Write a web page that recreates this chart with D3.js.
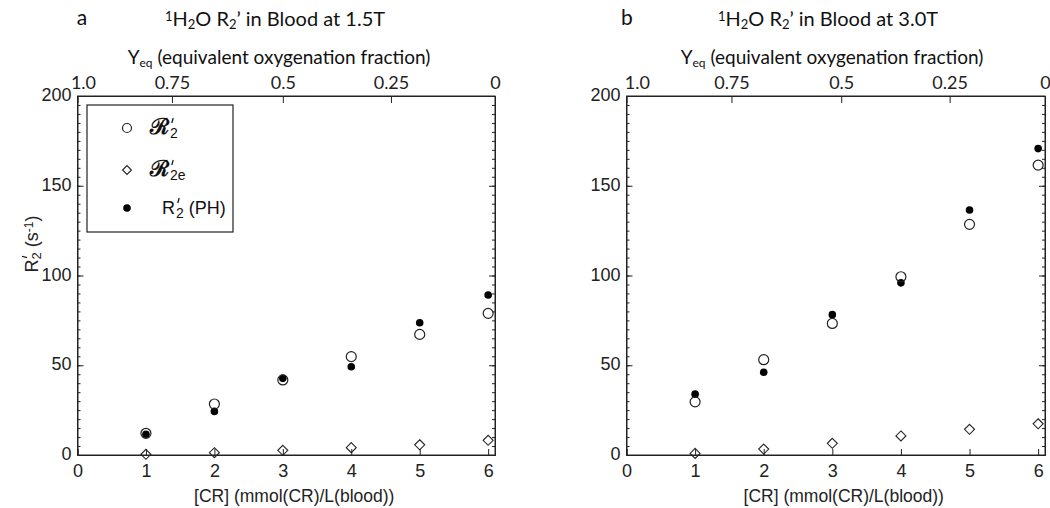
<!DOCTYPE html>
<html>
<head>
<meta charset="utf-8">
<script src="https://cdn.jsdelivr.net/npm/d3@7"></script>
<style>
  body { margin: 0; background: #fff; }
  svg { display: block; }
  .tick text { fill: #222; }
</style>
</head>
<body>
<svg id="chart" width="1050" height="508"></svg>
<script>
// concentration of contrast reagent, mmol(CR)/L(blood)
const crValues = [1, 2, 3, 4, 5, 6];

// panel a, 1.5T
const r2CalA   = [12.1, 28.4, 41.8, 54.8, 67.2, 78.9];
const r2eCalA  = [0.4, 1.3, 2.6, 4.1, 5.7, 8.2];
const r2PhA    = [11.6, 24.3, 42.7, 49.2, 73.7, 89.1];

// panel b, 3.0T
const r2CalB   = [29.6, 53.1, 73.3, 99.3, 128.5, 161.5];
const r2eCalB  = [0.9, 3.3, 6.5, 10.6, 14.3, 17.4];
const r2PhB    = [33.9, 46.1, 78.2, 95.9, 136.5, 170.7];

// bottom / left ticks
const xTicks = [0, 1, 2, 3, 4, 5, 6];
const yTicks = [0, 50, 100, 150, 200];

// top Yeq axis: labels and where they sit on the [CR] scale
const yeqLabels = ['1.0', '0.75', '0.5', '0.25', '0'];
const yeqPosA = [0.08, 1.38, 3.0, 4.58, 6.1];
const yeqPosB = [0.15, 1.53, 3.13, 4.71, 6.1];

const svg = d3.select('#chart');
const SANS = 'Liberation Sans, Arial, sans-serif';
const CALI = 'Lato, Open Sans, sans-serif';

/**
 * Draw a small prime mark above the character at charIdx of a text
 */
function addPrime(parent, textSel, charIdx, baseY) {
  const p = textSel.node().getStartPositionOfChar(charIdx);
  parent.append('path')
    .attr('d', `M${p.x + 3.2},${baseY - 16} L${p.x + 1.8},${baseY - 11}`)
    .attr('stroke', '#111').attr('stroke-width', 1.2).attr('fill', 'none');
}

/**
 * Draw one panel of the figure
 */
function drawPanel(opts) {
  const { left, right, top, bottom } = opts;

  const x = d3.scaleLinear().domain([0, 6.1]).range([left, right]);
  const y = d3.scaleLinear().domain([0, 200]).range([bottom, top]);

  const g = svg.append('g');

  // minor y ticks on both sides
  g.append('g')
    .attr('transform', `translate(${left},0)`)
    .call(d3.axisLeft(y).tickValues(d3.range(0, 201, 5)).tickSize(-3).tickFormat(''))
    .call(a => a.select('.domain').remove());
  g.append('g')
    .attr('transform', `translate(${right},0)`)
    .call(d3.axisRight(y).tickValues(d3.range(0, 201, 5)).tickSize(-3).tickFormat(''))
    .call(a => a.select('.domain').remove());

  // major axes
  g.append('g')
    .attr('transform', `translate(${left},0)`)
    .call(d3.axisLeft(y).tickValues(yTicks).tickSize(-6).tickPadding(6))
    .call(a => a.selectAll('text')
      .attr('dy', '0.25em')
      .style('font-family', SANS)
      .style('font-size', '18px'));

  g.append('g')
    .attr('transform', `translate(${right},0)`)
    .call(d3.axisRight(y).tickValues(yTicks).tickSize(-6).tickFormat(''));

  g.append('g')
    .attr('transform', `translate(0,${bottom})`)
    .call(d3.axisBottom(x).tickValues(xTicks).tickSize(-6).tickPadding(9).tickFormat(d3.format('d')))
    .call(a => a.selectAll('text')
      .style('font-family', SANS)
      .style('font-size', '18px'));

  const top_ = g.append('g')
    .attr('transform', `translate(0,${top})`)
    .call(d3.axisTop(x).tickValues(opts.yeqPos).tickSize(-7).tickPadding(7)
      .tickFormat((d, i) => yeqLabels[i]));
  top_.selectAll('text')
    .style('font-family', CALI)
    .style('font-size', '18px');
  // no tick marks at the frame corners
  top_.selectAll('.tick line')
    .filter((d, i) => i === 0 || i === opts.yeqPos.length - 1)
    .remove();

  g.selectAll('.domain').attr('stroke', '#222');
  g.selectAll('.tick line').attr('stroke', '#222');

  // frame
  g.append('rect')
    .attr('x', left).attr('y', top)
    .attr('width', right - left).attr('height', bottom - top)
    .attr('fill', 'none').attr('stroke', '#222').attr('stroke-width', 1);

  // diamonds
  g.append('g').selectAll('path')
    .data(crValues.map((c, i) => [c, opts.r2e[i]]))
    .join('path')
    .attr('d', d3.symbol(d3.symbolDiamond2, 64))
    .attr('transform', d => `translate(${x(d[0])},${y(d[1])})`)
    .attr('fill', 'none').attr('stroke', '#222').attr('stroke-width', 1.1);

  // filled dots (PH)
  g.append('g').selectAll('circle')
    .data(crValues.map((c, i) => [c, opts.ph[i]]))
    .join('circle')
    .attr('cx', d => x(d[0])).attr('cy', d => y(d[1]))
    .attr('r', 3.8).attr('fill', '#000');

  // open circles
  g.append('g').selectAll('circle')
    .data(crValues.map((c, i) => [c, opts.r2[i]]))
    .join('circle')
    .attr('cx', d => x(d[0])).attr('cy', d => y(d[1]))
    .attr('r', 5).attr('fill', 'none').attr('stroke', '#222').attr('stroke-width', 1.2);

  // panel letter
  svg.append('text')
    .attr('x', opts.letterX).attr('y', 25)
    .style('font-family', CALI)
    .style('font-size', '21px').attr('fill', '#111')
    .attr('text-anchor', 'middle')
    .text(opts.letter);

  // title
  const t = svg.append('text')
    .attr('x', opts.titleX).attr('y', 26)
    .attr('text-anchor', 'middle')
    .style('font-family', CALI)
    .style('font-size', '20px').attr('fill', '#111');
  t.append('tspan').attr('baseline-shift', '35%').style('font-size', '13px').text('1');
  t.append('tspan').text('H');
  t.append('tspan').attr('baseline-shift', '-25%').style('font-size', '13px').text('2');
  t.append('tspan').text('O R');
  t.append('tspan').attr('baseline-shift', '-25%').style('font-size', '13px').text('2');
  t.append('tspan').text(`\u2019 in Blood at ${opts.field}`);

  // Yeq axis title
  const yq = svg.append('text')
    .attr('x', opts.titleX + 4).attr('y', 64)
    .attr('text-anchor', 'middle')
    .style('font-family', CALI)
    .style('font-size', '19px').attr('fill', '#111');
  yq.append('tspan').text('Y');
  yq.append('tspan').attr('baseline-shift', '-25%').style('font-size', '12px').text('eq');
  yq.append('tspan').attr('dx', 5).text('(equivalent oxygenation fraction)');

  // x axis title
  svg.append('text')
    .attr('x', (left + right) / 2 + 8).attr('y', 502)
    .attr('text-anchor', 'middle')
    .style('font-family', SANS)
    .style('font-size', '17.5px').attr('fill', '#222')
    .text('[CR] (mmol(CR)/L(blood))');

  return { x, y };
}

drawPanel({
  left: 77.5, right: 495, top: 96, bottom: 455,
  r2: r2CalA, r2e: r2eCalA, ph: r2PhA, yeqPos: yeqPosA,
  letter: 'a', letterX: 82, titleX: 275, field: '1.5T'
});

drawPanel({
  left: 626.5, right: 1045, top: 96, bottom: 455,
  r2: r2CalB, r2e: r2eCalB, ph: r2PhB, yeqPos: yeqPosB,
  letter: 'b', letterX: 627, titleX: 828, field: '3.0T'
});

// y axis title, left panel only
const ylGroup = svg.append('g').attr('transform', 'translate(38,244) rotate(-90)');
const yl = ylGroup.append('text')
  .attr('x', 0).attr('y', 0)
  .attr('text-anchor', 'middle')
  .style('font-family', SANS)
  .style('font-size', '18px').attr('fill', '#222');
yl.append('tspan').text('R');
yl.append('tspan').attr('baseline-shift', '-25%').style('font-size', '13px').text('2');
yl.append('tspan').text(' (s');
yl.append('tspan').attr('baseline-shift', '40%').style('font-size', '12px').text('-1');
yl.append('tspan').text(')');
addPrime(ylGroup, yl, 1, 0);

// legend, left panel
const legend = svg.append('g');
legend.append('rect')
  .attr('x', 87).attr('y', 105).attr('width', 146).attr('height', 127)
  .attr('fill', '#fff').attr('stroke', '#222').attr('stroke-width', 1.2);

const legendRows = [
  { kind: 'open', main: '\u211B', sub: '2', y: 128 },
  { kind: 'diamond', main: '\u211B', sub: '2e', y: 170 },
  { kind: 'dot', main: 'R', sub: '2', tail: ' (PH)', y: 208 }
];

legendRows.forEach(r => {
  if (r.kind === 'open') {
    legend.append('circle').attr('cx', 127).attr('cy', r.y).attr('r', 4.5)
      .attr('fill', 'none').attr('stroke', '#222').attr('stroke-width', 1.2);
  } else if (r.kind === 'diamond') {
    legend.append('path').attr('d', d3.symbol(d3.symbolDiamond2, 50))
      .attr('transform', `translate(127,${r.y})`)
      .attr('fill', 'none').attr('stroke', '#222').attr('stroke-width', 1.1);
  } else {
    legend.append('circle').attr('cx', 127).attr('cy', r.y).attr('r', 3.8).attr('fill', '#000');
  }

  const script = r.kind !== 'dot';
  const baseY = r.y + 6;
  const txt = legend.append('text')
    .attr('x', script ? 150 : 162).attr('y', baseY)
    .style('font-family', script ? 'DejaVu Serif, serif' : SANS)
    .style('font-size', script ? '22px' : '18px')
    .style('font-weight', script ? 'bold' : 'normal')
    .attr('fill', '#111');
  txt.append('tspan').text(r.main);
  txt.append('tspan').attr('dx', 1).attr('baseline-shift', '-30%').style('font-size', '14px')
    .style('font-weight', 'normal').style('font-family', SANS).text(r.sub);
  if (r.tail) txt.append('tspan').text(r.tail);
  addPrime(legend, txt, 1, baseY);
});
</script>
</body>
</html>
